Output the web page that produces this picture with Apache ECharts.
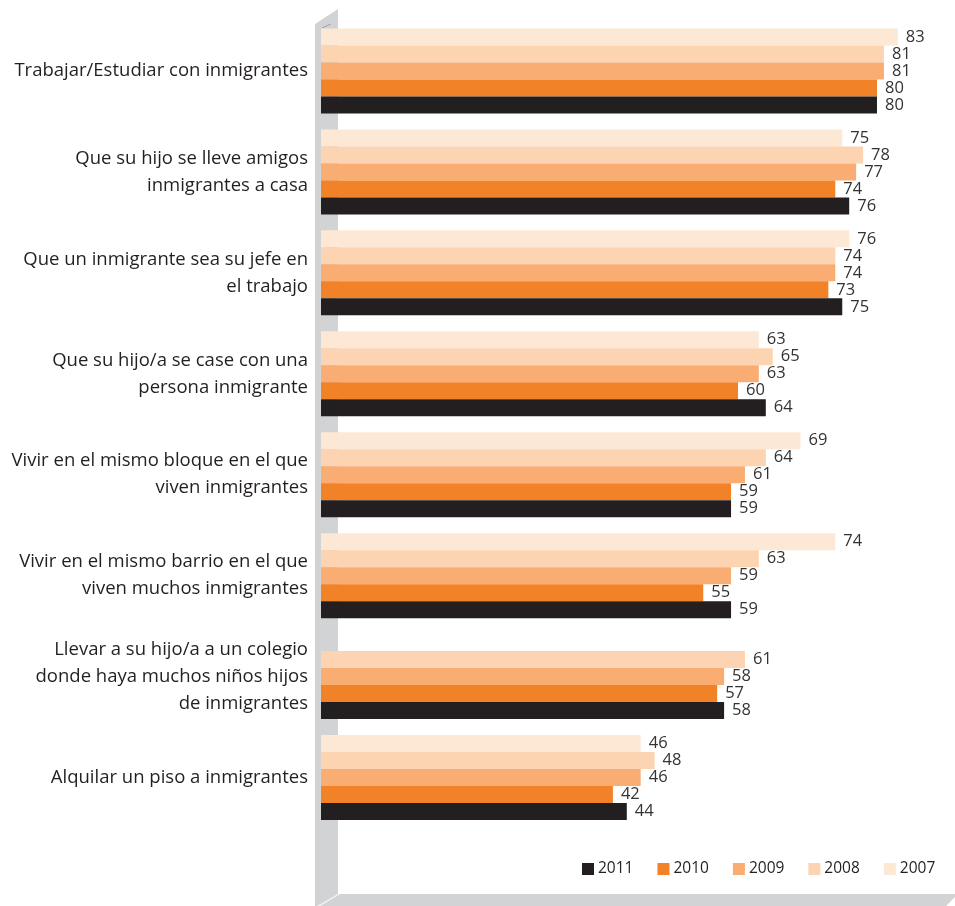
<!DOCTYPE html>
<html>
<head>
<meta charset="utf-8">
<script src="https://cdn.jsdelivr.net/npm/echarts@6/dist/echarts.min.js"></script>
<style>
html,body{margin:0;padding:0;background:#fff;}
#chart{width:955px;height:906px;}
</style>
</head>
<body>
<div id="chart"></div>
<script>
const categories = [
  "Trabajar/Estudiar con inmigrantes",
  "Que su hijo se lleve amigos\ninmigrantes a casa",
  "Que un inmigrante sea su jefe en\nel trabajo",
  "Que su hijo/a se case con una\npersona inmigrante",
  "Vivir en el mismo bloque en el que\nviven inmigrantes",
  "Vivir en el mismo barrio en el que\nviven muchos inmigrantes",
  "Llevar a su hijo/a a un colegio\ndonde haya muchos niños hijos\nde inmigrantes",
  "Alquilar un piso a inmigrantes"
];
const years = ["2007", "2008", "2009", "2010", "2011"];
const values2007 = [83, 75, 76, 63, 69, 74, null, 46];
const values2008 = [81, 78, 74, 65, 64, 63, 61, 48];
const values2009 = [81, 77, 74, 63, 61, 59, 58, 46];
const values2010 = [80, 74, 73, 60, 59, 55, 57, 42];
const values2011 = [80, 76, 75, 64, 59, 59, 58, 44];
const legendOrder = ["2011", "2010", "2009", "2008", "2007"];

const seriesValues = [values2007, values2008, values2009, values2010, values2011];
const colors = ["#FDE8D6", "#FCD4B1", "#F9AD73", "#F28227", "#231F20"];

const chart = echarts.init(document.getElementById('chart'), null, {renderer: 'canvas'});
const FONT = "'Open Sans', sans-serif";

const series = years.map((y, i) => ({
  name: y,
  type: 'bar',
  data: seriesValues[i],
  barWidth: 17,
  barGap: '0%',
  itemStyle: {color: colors[i]},
  label: {
    show: true,
    position: 'right',
    distance: 8,
    color: '#333',
    fontSize: 16.5,
    fontFamily: FONT,
    textBorderWidth: 0
  },
  z: 5
}));

chart.setOption({
  animation: false,
  backgroundColor: '#fff',
  color: colors,
  grid: {left: 321, right: 8.5, top: 20.5, bottom: 78, containLabel: false},
  xAxis: {
    type: 'value', min: 0, max: 90,
    show: false
  },
  yAxis: {
    type: 'category',
    data: categories,
    inverse: true,
    axisLine: {show: false},
    axisTick: {show: false},
    axisLabel: {
      margin: 13,
      fontSize: 18.5,
      lineHeight: 27,
      color: '#231F20',
      fontFamily: FONT,
      align: 'right'
    }
  },
  legend: {
    data: legendOrder,
    left: 577,
    top: 856,
    width: 375,
    itemWidth: 12,
    itemHeight: 12,
    itemGap: 24,
    icon: 'rect',
    textStyle: {fontSize: 15.5, color: '#231F20', fontFamily: FONT, padding: [0,0,0,-1]}
  },
  graphic: {
    z: 0,
    elements: [
      {
        type: 'polygon', z: 0, silent: true,
        shape: {points: [[315, 24], [338, 9], [338, 894], [317, 906], [315, 906]]},
        style: {fill: '#D1D3D4'}
      },
      {
        type: 'polygon', z: 0, silent: true,
        shape: {points: [[340, 894], [955, 894], [955, 897], [946, 906], [320, 906]]},
        style: {fill: '#D1D3D4'}
      },
      {
        type: 'line', z: 0, silent: true,
        shape: {x1: 318, y1: 906, x2: 338, y2: 894},
        style: {stroke: '#e6e7e8', lineWidth: 1}
      },
      {
        type: 'line', z: 0, silent: true,
        shape: {x1: 322, y1: 28, x2: 331, y2: 24},
        style: {stroke: '#a0a0a0', lineWidth: 1}
      }
    ]
  },
  series: series
});
</script>
</body>
</html>
